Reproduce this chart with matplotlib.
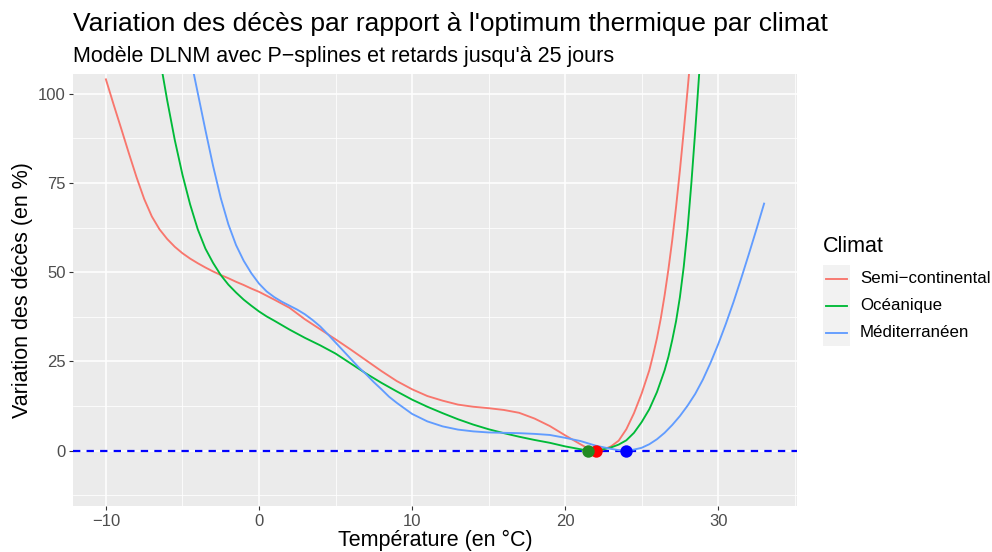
import numpy as np
import matplotlib
matplotlib.use("Agg")
import matplotlib.pyplot as plt
from matplotlib.lines import Line2D
from matplotlib.patches import Rectangle

plt.rcParams['font.family'] = ['Liberation Sans', 'DejaVu Sans']

# ---------------- Data ----------------
climats = ["Semi\u2212continental", "Océanique", "Méditerranéen"]
couleurs = ["#F8766D", "#00BA38", "#619CFF"]

temp_semi = [-10, -9.5, -9, -8.5, -8, -7.5, -7, -6.5, -6, -5.5, -5, -4.5, -4, -3.5, -3, -2.5, -2,
             -1.5, -1, -0.5, 0, 1, 2, 3, 4, 5, 6, 7, 8, 9, 10, 11, 12, 13, 14, 15, 16, 17, 18, 19,
             20, 21, 21.5, 22, 22.5, 23, 23.5, 24, 24.5, 25, 25.5, 25.75, 26, 26.25, 26.5, 26.75,
             27, 27.25, 27.5, 27.75, 28, 28.25, 28.5]
rr_semi = [104, 97, 90.2, 83.3, 76.6, 70.5, 65.6, 62.0, 59.3, 57.1, 55.3, 53.8, 52.5, 51.3, 50.2,
           49.2, 48.3, 47.3, 46.4, 45.4, 44.5, 42.3, 40.0, 36.8, 34.0, 31.2, 28.3, 25.3, 22.3, 19.5,
           17.2, 15.3, 14.0, 12.9, 12.3, 11.9, 11.4, 10.6, 9.0, 6.9, 4.3, 1.8, 0.6, 0.0, 0.3, 1.2,
           2.8, 6.0, 10.5, 16.0, 22.5, 26.8, 31.5, 37.0, 43.5, 50.8, 59.0, 68.3, 78.5, 89.5, 101.0,
           113.0, 125.0]

temp_ocea = [-7, -6.5, -6, -5.5, -5, -4.5, -4, -3.5, -3, -2.5, -2, -1.5, -1, -0.5, 0, 0.5, 1, 2, 3,
             4, 5, 6, 7, 8, 9, 10, 11, 12, 13, 14, 15, 16, 17, 18, 19, 20, 21, 21.5, 22, 22.5, 23,
             23.5, 24, 24.5, 25, 25.5, 26, 26.5, 26.75, 27, 27.25, 27.5, 27.75, 28, 28.25, 28.5,
             28.75, 29]
rr_ocea = [124, 110.5, 98.2, 87.0, 77.3, 69.0, 62.0, 56.6, 52.6, 49.2, 46.5, 44.3, 42.3, 40.6, 39.0,
           37.6, 36.4, 33.9, 31.6, 29.5, 27.2, 24.4, 21.6, 19.0, 16.6, 14.3, 12.3, 10.5, 8.8, 7.3,
           6.0, 4.9, 3.9, 3.0, 2.2, 1.2, 0.4, 0.0, 0.1, 0.4, 0.9, 1.7, 2.9, 5.0, 8.0, 11.6, 16.4,
           22.5, 26.3, 31.0, 36.3, 43.0, 51.5, 62.0, 75.0, 89.5, 105.0, 121.0]

temp_medi = [-5, -4.5, -4, -3.5, -3, -2.5, -2, -1.5, -1, -0.5, 0, 0.5, 1, 1.5, 2, 2.5,
             3, 3.5, 4, 4.5, 5, 5.5, 6, 6.5, 7, 7.5, 8, 8.5, 9, 10, 11, 12, 13, 14, 15, 16, 17, 18,
             19, 20, 21, 22, 23, 23.5, 24, 24.5, 25, 25.5, 26, 26.5, 27, 27.5, 28, 28.5, 29, 29.5,
             30, 30.5, 31, 31.5, 32, 32.5, 33]
rr_medi = [121, 110.6, 100.2, 89.8, 79.8, 70.8, 63.4, 57.6, 53.2, 49.7, 46.8, 44.6, 43.0,
           41.7, 40.6, 39.5, 38.2, 36.6, 34.8, 32.6, 30.3, 28.0, 25.7, 23.4, 21.4, 19.2, 17.2, 15.1,
           13.4, 10.3, 8.2, 6.8, 5.9, 5.4, 5.1, 5.0, 4.9, 4.7, 4.4, 3.6, 2.7, 1.4, 0.5, 0.15, 0.0,
           0.3, 0.8, 1.8, 3.2, 5.0, 7.2, 9.7, 12.6, 15.9, 19.9, 24.6, 29.8, 35.5, 41.6, 48.2, 55.0,
           62.0, 69.2]

optimum_temp = [22.0, 21.5, 24.0]
optimum_rr = [0.0, 0.0, 0.0]
optimum_couleurs = ["red", "forestgreen", "blue"]

x_ticks = [-10, 0, 10, 20, 30]
y_ticks = [0, 25, 50, 75, 100]

titre = "Variation des décès par rapport à l'optimum thermique par climat"
sous_titre = "Modèle DLNM avec P\u2212splines et retards jusqu'à 25 jours"
x_label = "Température (en °C)"
y_label = "Variation des décès (en %)"
legende_titre = "Climat"

# ---------------- Figure ----------------
W, H = 992, 552
fig = plt.figure(figsize=(W / 100, H / 100), dpi=100)
L, R, T, B = 73, 797, 74, 506
ax = fig.add_axes([L / W, 1 - B / H, (R - L) / W, (B - T) / H])
ax.set_facecolor("#EBEBEB")
for s in ax.spines.values():
    s.set_visible(False)

ax.set_xlim(-12.15, 35.15)
ax.set_ylim(-15.5, 105.5)
ax.set_xticks(x_ticks)
ax.set_yticks(y_ticks)
ax.set_xticks([-5, 5, 15, 25, 35], minor=True)
ax.set_yticks([-12.5, 12.5, 37.5, 62.5, 87.5], minor=True)
ax.grid(which="major", color="white", lw=1.1)
ax.grid(which="minor", color="white", lw=0.55)
ax.set_axisbelow(True)
ax.tick_params(which="major", length=3.2, width=0.8, color="#333333",
               labelcolor="#4D4D4D", labelsize=12, pad=2.2)
ax.tick_params(which="minor", length=0)

ax.axhline(0, color="blue", lw=1.6, ls=(0, (3.3, 2.8)), zorder=2)

series = [(temp_semi, rr_semi), (temp_ocea, rr_ocea), (temp_medi, rr_medi)]
for (t, v), c in zip(series, couleurs):
    ax.plot(t, v, color=c, lw=1.35, zorder=3, solid_joinstyle="round")

for t, v, c in zip(optimum_temp, optimum_rr, optimum_couleurs):
    ax.scatter([t], [v], s=80, color=c, zorder=4, linewidths=0)

# Titles
fig.text(L / W, 1 - 31 / H, titre, fontsize=19, ha="left", va="baseline", color="black")
fig.text(L / W, 1 - 62 / H, sous_titre, fontsize=15.5, ha="left", va="baseline", color="black")
fig.text((L + R) / 2 / W, 1 - 546 / H, x_label, fontsize=15.5, ha="center", va="baseline")
fig.text(23 / W, 1 - (T + B) / 2 / H, y_label, fontsize=15.5, ha="center", va="center",
         rotation=90)

# Legend (ggplot-like)
fig.text(823 / W, 1 - 252 / H, legende_titre, fontsize=15.5, ha="left", va="baseline")
fig.add_artist(Rectangle((823 / W, 1 - 346 / H), 27 / W, 81 / H, transform=fig.transFigure,
                         facecolor="#F2F2F2", edgecolor="none"))
for i, (nom, c) in enumerate(zip(climats, couleurs)):
    yc = 278.5 + 27 * i
    fig.add_artist(Line2D([826 / W, 847 / W], [1 - yc / H, 1 - yc / H], color=c, lw=1.35,
                          transform=fig.transFigure))
    fig.text(860 / W, 1 - yc / H, nom, fontsize=12.2, ha="left", va="center")

fig.savefig("out.png", dpi=100, facecolor="white")
